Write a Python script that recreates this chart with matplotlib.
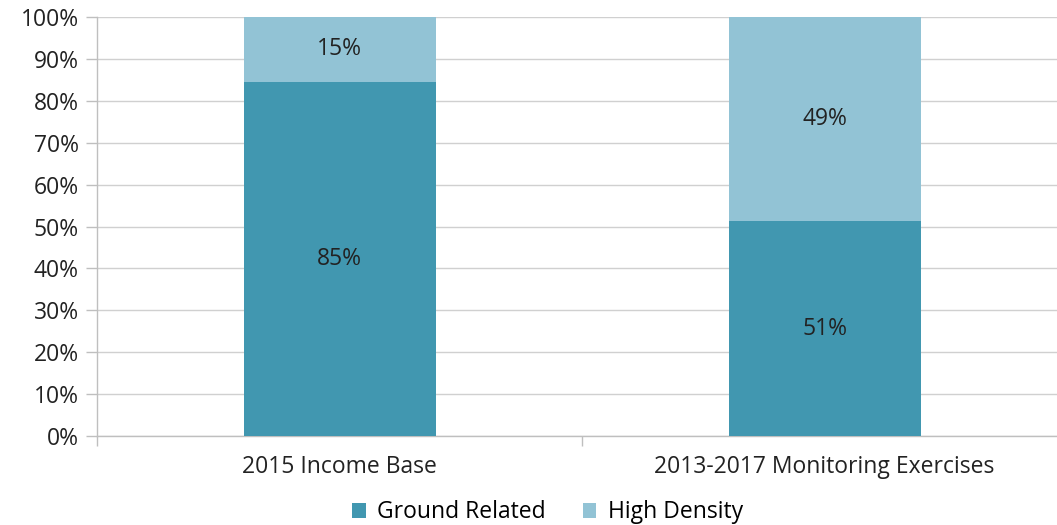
import matplotlib
matplotlib.use("Agg")
import matplotlib.pyplot as plt
import numpy as np
from matplotlib.ticker import FixedLocator, PercentFormatter

categories = ["2015 Income Base", "2013-2017 Monitoring Exercises"]
ground_related = [84.6, 51.3]
high_density = [15.4, 48.7]
series_names = ["Ground Related", "High Density"]
colors = ["#4197B0", "#92C3D5"]

plt.rcParams["font.family"] = ["Open Sans", "DejaVu Sans"]
FS = 16.5

fig = plt.figure(figsize=(10.57, 5.25), dpi=100)
ax = fig.add_axes([0.0918, 0.1695, 0.9177, 0.7981])

x = np.arange(len(categories))
b1 = ax.bar(x, ground_related, width=0.396, color=colors[0], label=series_names[0], zorder=3)
b2 = ax.bar(x, high_density, width=0.396, bottom=ground_related, color=colors[1],
            label=series_names[1], zorder=3)

for bars, vals, bottoms in [(b1, ground_related, [0, 0]), (b2, high_density, ground_related)]:
    for rect, v, b in zip(bars, vals, bottoms):
        ax.text(rect.get_x() + rect.get_width() / 2, b + v / 2, f"{round(v)}%",
                ha="center", va="center", fontsize=FS, color="#222222", zorder=4)

ax.set_xlim(-0.5, 1.5)
ax.set_ylim(0, 100)
ax.set_yticks(np.arange(0, 101, 10))
ax.yaxis.set_major_formatter(PercentFormatter(decimals=0))
ax.set_xticks(x)
ax.set_xticklabels(categories)
ax.xaxis.set_minor_locator(FixedLocator([-0.5, 0.5, 1.5]))
ax.tick_params(axis="x", which="major", length=0, pad=14, labelsize=FS, labelcolor="#222222")
ax.tick_params(axis="x", which="minor", length=7, color="#BFBFBF", width=1)
ax.tick_params(axis="y", length=8, color="#BFBFBF", width=1, labelsize=FS, labelcolor="#222222", pad=5)

ax.grid(axis="y", color="#D0D0D0", linewidth=1, zorder=0)
for side in ["top", "right"]:
    ax.spines[side].set_visible(False)
for side in ["left", "bottom"]:
    ax.spines[side].set_color("#BFBFBF")
    ax.spines[side].set_linewidth(1)

fig.legend(handles=[b1, b2], labels=series_names, loc="center", bbox_to_anchor=(0.518, 0.024),
           ncol=2, frameon=False, fontsize=FS, handlelength=0.6, handleheight=0.6,
           columnspacing=1.6, handletextpad=0.5, borderpad=0)

fig.savefig("out.png", dpi=100)
